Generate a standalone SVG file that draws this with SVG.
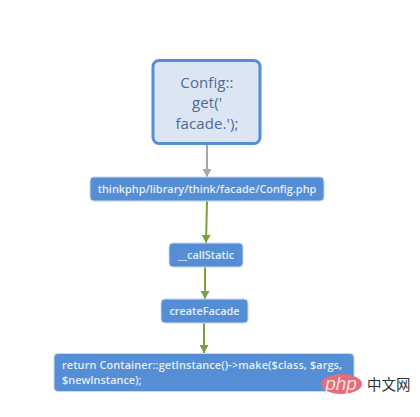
<svg xmlns="http://www.w3.org/2000/svg" width="420" height="417" viewBox="0 0 420 417">
<style>
text{font-family:"Open Sans","Noto Sans",sans-serif}
.b{fill:#558ed5;stroke:#c6d9f1;stroke-width:1}
.t{fill:#e4edf8;font-size:10.9px;font-weight:600}
.n{fill:#4a6a9c;font-size:15px;letter-spacing:0.1px;text-anchor:middle}
.c{fill:none;stroke-width:2}
.g{stroke:#a6a6a6}
.v{stroke:#7f9f3f}
</style>
<defs>
<marker id="ag" markerUnits="userSpaceOnUse" markerWidth="9" markerHeight="10" refX="8" refY="5" orient="auto"><path d="M0 0.500L8 5L0 9.500Z" fill="#a6a6a6"/></marker>
<marker id="av" markerUnits="userSpaceOnUse" markerWidth="9" markerHeight="10" refX="8" refY="5" orient="auto"><path d="M0 0.500L8 5L0 9.500Z" fill="#7f9f3f"/></marker>
</defs>
<rect width="420" height="417" fill="#fff"/>
<g id="connectors">
<path class="c g" d="M207 144V177" marker-end="url(#ag)"/>
<path class="c v" d="M207 201L206 243" marker-end="url(#av)"/>
<path class="c v" d="M205 267L205 299" marker-end="url(#av)"/>
<path class="c v" d="M204 323L204 353" marker-end="url(#av)"/>
</g>
<g id="n1">
<rect x="153" y="60.500" width="107" height="83" rx="6" fill="#dce6f2" stroke="#558ed5" stroke-width="3"/>
<text class="n" x="207" y="87.500">Config::</text>
<text class="n" x="207" y="108">get('</text>
<text class="n" x="207" y="128.500">facade.');</text>
</g>
<g id="n2">
<rect class="b" x="90" y="177" width="234" height="24" rx="4"/>
<text class="t" x="207" y="193" text-anchor="middle">thinkphp/library/think/facade/Config.php</text>
</g>
<g id="n3">
<rect class="b" x="169" y="243" width="74" height="24" rx="4"/>
<text class="t" x="206" y="259" text-anchor="middle">__callStatic</text>
</g>
<g id="n4">
<rect class="b" x="161" y="299" width="87" height="24" rx="4"/>
<text class="t" x="204.500" y="315" text-anchor="middle">createFacade</text>
</g>
<g id="n5">
<rect class="b" x="54" y="353.500" width="300" height="38" rx="4"/>
<text class="t" x="62" y="369" textLength="280">return Container::getInstance()-&gt;make($class, $args,</text>
<text class="t" x="62" y="384">$newInstance);</text>
</g>
<g id="watermark">
<ellipse cx="341.500" cy="384" rx="20.500" ry="10" fill="#e56d78"/>
<text x="341" y="390" text-anchor="middle" font-size="19" font-style="italic" fill="#f6dfe2" style="font-family:'Liberation Sans',sans-serif">php</text>
<text x="367" y="390" font-size="14.500" fill="#333" style="font-family:'Noto Sans CJK SC',sans-serif">中文网</text>
</g>
</svg>
